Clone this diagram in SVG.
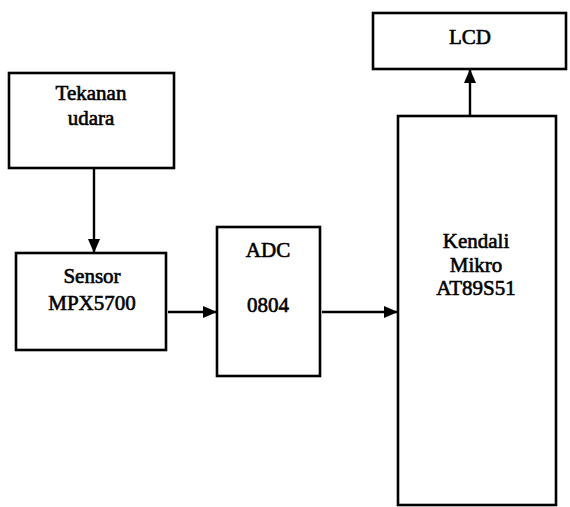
<svg xmlns="http://www.w3.org/2000/svg" width="570" height="507" viewBox="0 0 570 507">
<style>
.box{fill:#fff;stroke:#000;stroke-width:2.6}
.t{font-family:'Liberation Serif','DejaVu Serif',serif;font-size:21px;font-weight:normal;fill:#000;stroke:#000;stroke-width:0.6;text-anchor:middle}
.c{stroke:#000;stroke-width:2.4;fill:none}
</style>
<defs>
<marker id="ah" markerWidth="14" markerHeight="12" refX="13" refY="6" orient="auto" markerUnits="userSpaceOnUse">
<path d="M0,0 L14,6 L0,12 Z" fill="#000"/>
</marker>
</defs>
<rect width="570" height="507" fill="#fff"/>
<g id="connectors">
<line class="c" x1="94" y1="169" x2="94" y2="252" marker-end="url(#ah)"/>
<line class="c" x1="168" y1="312" x2="216" y2="312" marker-end="url(#ah)"/>
<line class="c" x1="322" y1="312" x2="397" y2="312" marker-end="url(#ah)"/>
<line class="c" x1="470" y1="116" x2="470" y2="70" marker-end="url(#ah)"/>
</g>
<g id="tekanan">
<rect class="box" x="9" y="73" width="165" height="95"/>
<text class="t" x="91" y="100">Tekanan</text>
<text class="t" x="91" y="125">udara</text>
</g>
<g id="sensor">
<rect class="box" x="16" y="253" width="150" height="97"/>
<text class="t" x="92" y="283">Sensor</text>
<text class="t" x="92" y="310">MPX5700</text>
</g>
<g id="adc">
<rect class="box" x="217" y="227" width="103" height="149"/>
<text class="t" x="268" y="257">ADC</text>
<text class="t" x="268" y="312">0804</text>
</g>
<g id="mikro">
<rect class="box" x="398" y="116" width="158" height="389"/>
<text class="t" x="476" y="248">Kendali</text>
<text class="t" x="476" y="272">Mikro</text>
<text class="t" x="476" y="295">AT89S51</text>
</g>
<g id="lcd">
<rect class="box" x="373" y="13" width="193" height="56"/>
<text class="t" x="470" y="44">LCD</text>
</g>
</svg>
